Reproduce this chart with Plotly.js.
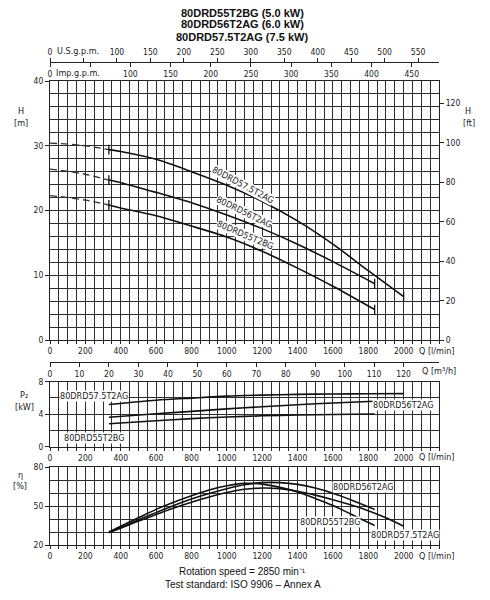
<!DOCTYPE html>
<html><head><meta charset="utf-8">
<script src="https://cdn.plot.ly/plotly-3.0.1.min.js"></script>
<style>html,body{margin:0;padding:0;background:#fff}#chart{width:490px;height:600px}</style>
</head><body><div id="chart"></div>
<script>
// ---------- DATA ----------
const titleLines = ["80DRD55T2BG (5.0 kW)", "80DRD56T2AG (6.0 kW)", "80DRD57.5T2AG (7.5 kW)"];
const seriesNames = ["80DRD55T2BG", "80DRD56T2AG", "80DRD57.5T2AG"];

// Head curves, Q in l/min, H in m (first 4 points = dashed part up to 333 l/min)
const qH55 = [0, 100, 200, 333, 400, 600, 800, 1000, 1200, 1400, 1600, 1836];
const h55  = [22.3, 22.0, 21.6, 20.85, 20.4, 19.2, 17.6, 15.9, 13.7, 11.1, 8.3, 4.7];
const qH56 = [0, 100, 200, 333, 400, 600, 800, 1000, 1200, 1400, 1600, 1836];
const h56  = [26.4, 26.05, 25.6, 24.7, 24.3, 22.8, 21.2, 19.3, 17.2, 14.8, 12.1, 8.7];
const qH57 = [0, 100, 200, 333, 400, 600, 800, 1000, 1200, 1400, 1600, 1800, 2000];
const h57  = [30.4, 30.25, 30.0, 29.4, 29.1, 27.9, 26.0, 23.9, 21.4, 18.4, 14.8, 10.7, 6.7];

// Power P2 (kW)
const qP55 = [333, 600, 800, 1000, 1200, 1400, 1600, 1836];
const p55  = [2.83, 3.2, 3.45, 3.65, 3.8, 3.9, 3.97, 4.02];
const qP56 = [333, 600, 800, 1000, 1200, 1400, 1600, 1836];
const p56  = [3.62, 4.05, 4.35, 4.65, 4.92, 5.17, 5.38, 5.6];
const qP57 = [333, 600, 800, 1000, 1200, 1400, 1600, 1800, 2000];
const p57  = [5.2, 5.72, 5.98, 6.22, 6.35, 6.44, 6.49, 6.52, 6.53];

// Efficiency (%)
const qE55 = [333, 400, 500, 600, 700, 800, 900, 1000, 1100, 1200, 1300, 1400, 1500, 1600, 1700, 1836];
const e55  = [30, 34.5, 41, 47.5, 53, 58, 62.5, 65.8, 67.6, 67, 64.5, 61, 56, 50.5, 44, 35];
const qE56 = [333, 400, 500, 600, 700, 800, 900, 1000, 1100, 1200, 1300, 1400, 1500, 1600, 1700, 1836];
const e56  = [30, 33.5, 39.5, 45, 50.5, 55.5, 59.8, 63.5, 66.5, 68.2, 68.2, 66.8, 64, 60, 55, 47.5];
const qE57 = [333, 400, 500, 600, 700, 800, 900, 1000, 1100, 1200, 1300, 1400, 1500, 1600, 1700, 1800, 1900, 2000];
const e57  = [29.5, 33, 38.5, 43.5, 48.5, 53, 57, 60.5, 63, 64, 63.5, 61.5, 58.5, 55, 51, 46.5, 41, 34.5];

// Axis tick labels
const qTicks = [0, 200, 400, 600, 800, 1000, 1200, 1400, 1600, 1800, 2000];
const usTicks = [0, 100, 150, 200, 250, 300, 350, 400, 450, 500, 550];
const impTicks = [0, 100, 150, 200, 250, 300, 350, 400, 450];
const m3hTicks = [0, 10, 20, 30, 40, 50, 60, 70, 80, 90, 100, 110, 120];
const hTicks = [0, 10, 20, 30, 40];
const ftTicks = [0, 20, 40, 60, 80, 100, 120];
const pTicks = [0, 4, 8];
const eTicks = [20, 50, 80];

// ---------- LAYOUT ----------
const W = 490, H = 600, ML = 50, MR = 51, MT = 40, MB = 55;
const PW = W - ML - MR, PH = H - MT - MB;
const px = x => (x - ML) / PW;          // pixel -> paper x
const py = y => (H - MB - y) / PH;      // pixel -> paper y

const QMAX = 2200, LPM_US = 3.78541, LPM_IMP = 4.54609, M3H = 0.06, FT = 3.28084;
const GRID = '#2e2e2e', LINE = '#222', TXT = '#222';
const NARROW = 'Liberation Sans Narrow, DejaVu Sans Condensed, Arial Narrow, sans-serif';
const tickFont = {family: NARROW, size: 8.5, color: TXT};
const lblFont = {family: NARROW, size: 9, color: TXT};

function qAxis(anchor) {
  return {anchor, range: [0, QMAX], tickmode: 'array', tickvals: qTicks,
    ticks: 'outside', ticklen: 3, tickcolor: LINE, showgrid: true, gridcolor: GRID, gridwidth: 1,
    minor: {tickmode: 'linear', tick0: 0, dtick: 50, showgrid: true, gridcolor: GRID, gridwidth: 1, ticks: 'outside', ticklen: 3, tickcolor: LINE},
    showline: true, linecolor: LINE, mirror: true, zeroline: false, tickfont: tickFont, fixedrange: true};
}
function vAxis(domain, range, ticks, minor) {
  return {domain, range, tickmode: 'array', tickvals: ticks, ticks: 'outside', ticklen: 4, tickcolor: LINE,
    showgrid: true, gridcolor: GRID, gridwidth: 1,
    minor: {tickmode: 'linear', tick0: range[0], dtick: minor, showgrid: true, gridcolor: GRID, gridwidth: 1, ticks: ''},
    showline: true, linecolor: LINE, mirror: true, zeroline: false, tickfont: tickFont, fixedrange: true};
}

const dMain = [py(340), py(81)], dP = [py(446.7), py(381.7)], dE = [0, py(467.3)];

const layout = {
  width: W, height: H, margin: {l: ML, r: MR, t: MT, b: MB},
  paper_bgcolor: '#fff', plot_bgcolor: '#fff', showlegend: false,
  xaxis: qAxis('y'),
  yaxis: vAxis(dMain, [0, 40], hTicks, 2),
  yaxis2: {overlaying: 'y', side: 'right', anchor: 'x', range: [0, 40 * FT], tickmode: 'array', tickvals: ftTicks,
    ticks: 'outside', ticklen: 4, tickcolor: LINE, showgrid: false, zeroline: false, showline: true, linecolor: LINE, tickfont: tickFont},
  xaxis2: {overlaying: 'x', anchor: 'free', position: py(62), side: 'top', range: [0, QMAX / LPM_US],
    tickmode: 'array', tickvals: usTicks, ticks: 'outside', ticklen: 4, tickcolor: LINE,
    minor: {tickmode: 'linear', tick0: 0, dtick: 50, ticks: 'outside', ticklen: 4, tickcolor: LINE, showgrid: false},
    showgrid: false, zeroline: false, showline: true, linecolor: LINE, tickfont: tickFont},
  xaxis3: {overlaying: 'x', anchor: 'free', position: py(62), side: 'bottom', range: [0, QMAX / LPM_IMP],
    tickmode: 'array', tickvals: impTicks, ticks: 'outside', ticklen: 4, tickcolor: LINE,
    minor: {tickmode: 'linear', tick0: 0, dtick: 50, ticks: 'outside', ticklen: 4, tickcolor: LINE, showgrid: false},
    showgrid: false, zeroline: false, showline: false, tickfont: tickFont},
  xaxis4: {overlaying: 'x', anchor: 'free', position: py(361.7), side: 'bottom', range: [0, QMAX * M3H],
    tickmode: 'array', tickvals: m3hTicks, ticks: 'outside', ticklen: 4, tickcolor: LINE,
    showgrid: false, zeroline: false, showline: true, linecolor: LINE, tickfont: tickFont},
  xaxis5: qAxis('y3'),
  yaxis3: vAxis(dP, [0, 8], pTicks, 2),
  xaxis6: qAxis('y4'),
  yaxis4: vAxis(dE, [20, 80], eTicks, 10),
  annotations: [],
};

const A = layout.annotations;
function ann(text, x, y, opts) {
  A.push(Object.assign({text, x: px(x), y: py(y), xref: 'paper', yref: 'paper', showarrow: false,
    xanchor: 'center', yanchor: 'middle', font: lblFont}, opts || {}));
}
// Title lines
const titleFont = {family: 'Liberation Sans, Arial, sans-serif', size: 11, color: '#111', weight: 'bold'};
[12.7, 24.5, 36.5].forEach((y, i) => ann(titleLines[i], 242, y, {font: titleFont}));
// axis names
ann('U.S.g.p.m.', 78, 51); ann('Imp.g.p.m.', 78, 73);
ann('H', 21, 110.5); ann('[m]', 21, 123);
ann('H', 468, 110.5); ann('[ft]', 469, 123);
ann('Q [l/min]', 437, 350.5); ann('Q [m³/h]', 439, 371);
ann('P₂', 24, 395); ann('[kW]', 24, 407);
ann('Q [l/min]', 437, 457);
ann('η', 20, 475); ann('[%]', 20, 486);
ann('Q [l/min]', 437, 556);
// curve labels
const cFont = {family: NARROW, size: 9, color: TXT};
ann(seriesNames[2], 243, 185, {textangle: 28, font: cFont, bgcolor: '#fff', borderpad: 0});
ann(seriesNames[1], 244, 212, {textangle: 26, font: cFont, bgcolor: '#fff', borderpad: 0});
ann(seriesNames[0], 245, 235, {textangle: 23, font: cFont, bgcolor: '#fff', borderpad: 0});
ann(seriesNames[2], 93.5, 396, {font: cFont, bgcolor: '#fff', borderpad: 0});
ann(seriesNames[0], 93.5, 438, {font: cFont, bgcolor: '#fff', borderpad: 0});
ann(seriesNames[1], 403, 404.5, {font: cFont, bgcolor: '#fff', borderpad: 0});
ann(seriesNames[1], 363, 487, {font: cFont, bgcolor: '#fff', borderpad: 0});
ann(seriesNames[0], 330, 522, {font: cFont, bgcolor: '#fff', borderpad: 0});
ann(seriesNames[2], 405, 535, {font: cFont, bgcolor: '#fff', borderpad: 0});
// footer
const footFont = {family: 'Liberation Sans, Arial, sans-serif', size: 10, color: '#111'};
ann('Rotation speed = 2850 min⁻¹', 242, 571, {font: footFont});
ann('Test standard: ISO 9906 – Annex A', 243, 584, {font: footFont});

// ---------- TRACES ----------
const traces = [];
const CUR = {color: '#111', width: 1.6, shape: 'spline', smoothing: 0.8};
function headTrace(q, h) {
  traces.push({x: q.slice(0, 4), y: h.slice(0, 4), mode: 'lines', xaxis: 'x', yaxis: 'y',
    line: Object.assign({}, CUR, {dash: '7px,4px', width: 1.3, color: '#333'}), hoverinfo: 'skip'});
  traces.push({x: q.slice(3), y: h.slice(3), mode: 'lines', xaxis: 'x', yaxis: 'y', line: CUR, hoverinfo: 'skip'});
  traces.push({x: [q[3], q[q.length - 1]], y: [h[3], h[h.length - 1]], mode: 'markers', xaxis: 'x', yaxis: 'y',
    marker: {symbol: 'line-ns', size: 7, line: {color: '#111', width: 1.3}}, hoverinfo: 'skip'});
}
headTrace(qH55, h55); headTrace(qH56, h56); headTrace(qH57, h57);
[[qP55, p55], [qP56, p56], [qP57, p57]].forEach(([q, p]) =>
  traces.push({x: q, y: p, mode: 'lines', xaxis: 'x5', yaxis: 'y3', line: CUR, hoverinfo: 'skip'}));
[[qE55, e55], [qE56, e56], [qE57, e57]].forEach(([q, e]) =>
  traces.push({x: q, y: e, mode: 'lines', xaxis: 'x6', yaxis: 'y4', line: CUR, hoverinfo: 'skip'}));
// anchor traces for the secondary scales
traces.push({x: [], y: [], xaxis: 'x', yaxis: 'y2', hoverinfo: 'skip'});
traces.push({x: [], y: [], xaxis: 'x2', yaxis: 'y', hoverinfo: 'skip'});
traces.push({x: [], y: [], xaxis: 'x3', yaxis: 'y', hoverinfo: 'skip'});
traces.push({x: [], y: [], xaxis: 'x4', yaxis: 'y', hoverinfo: 'skip'});

Plotly.newPlot('chart', traces, layout, {staticPlot: true, displayModeBar: false});
</script></body></html>
